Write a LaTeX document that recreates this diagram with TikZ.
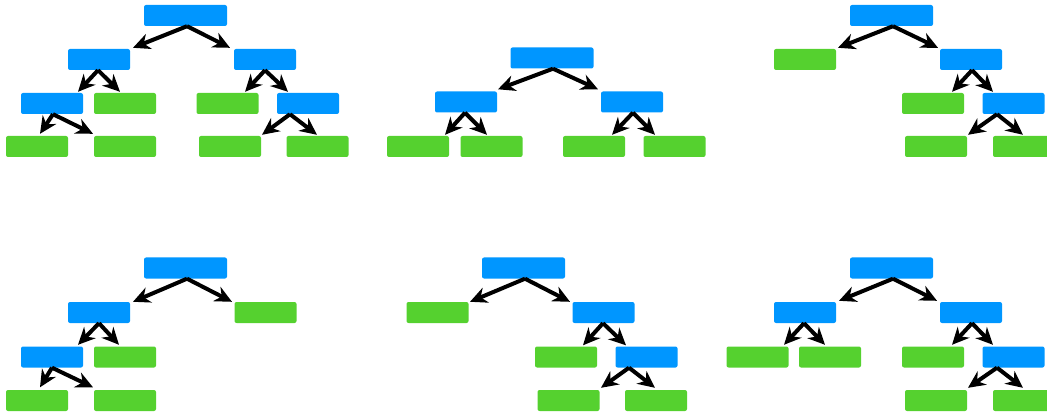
\documentclass[tikz,border=0pt]{standalone}
\usetikzlibrary{arrows.meta,calc}
\definecolor{nodeblue}{RGB}{0,150,255}
\definecolor{leafgreen}{RGB}{85,209,47}
\tikzset{
  boxbase/.style={rectangle, rounded corners=2pt, inner sep=0pt, minimum height=21pt, draw=none},
  inner/.style={boxbase, fill=nodeblue, minimum width=62pt},
  rootbox/.style={boxbase, fill=nodeblue, minimum width=83pt},
  leaf/.style={boxbase, fill=leafgreen, minimum width=62pt},
  arr/.style={line width=4pt, draw=black, -{Stealth[length=17pt,width=16pt,inset=5.5pt]}}
}
\newcommand{\treearrow}[5]{\draw[arr] ($(#1.south)+(#2,0)$) -- ($(#3.north)+(#4,#5)$);}
\begin{document}
\begin{tikzpicture}[x=1pt,y=-1pt]
\useasboundingbox (0,0) rectangle (1047,414);
% ---------- Tree 1 (top left)
\node[rootbox] (t1r) at (185.5,15.5) {};
\node[inner] (t1a) at (99,59.5) {};
\node[inner] (t1b) at (265,59.5) {};
\node[inner] (t1c) at (52,103.5) {};
\node[leaf]  (t1d) at (125,103.5) {};
\node[leaf]  (t1e) at (227.5,103.5) {};
\node[inner] (t1f) at (308,103.5) {};
\node[leaf]  (t1g) at (37,146.5) {};
\node[leaf]  (t1h) at (125,146.5) {};
\node[leaf]  (t1i) at (230,146.5) {};
\node[leaf]  (t1j) at (317.5,146.5) {};
\treearrow{t1r}{1.5}{t1a}{34}{-1}
\treearrow{t1r}{1.5}{t1b}{-35}{-1}
\treearrow{t1a}{-1}{t1c}{26}{-1}
\treearrow{t1a}{-1}{t1d}{-5}{-1}
\treearrow{t1c}{1}{t1g}{3}{-2}
\treearrow{t1c}{1}{t1h}{-32}{-2}
\treearrow{t1b}{0}{t1e}{17.5}{-1}
\treearrow{t1b}{0}{t1f}{-20}{-1}
\treearrow{t1f}{-18}{t1i}{32}{-1}
\treearrow{t1f}{-18}{t1j}{-0.5}{-1}
% ---------- Tree 2 (top middle)
\node[rootbox] (t2r) at (552,58) {};
\node[inner] (t2a) at (466,102) {};
\node[inner] (t2b) at (632,102) {};
\node[leaf]  (t2c) at (418,146.5) {};
\node[leaf]  (t2d) at (491.5,146.5) {};
\node[leaf]  (t2e) at (594,146.5) {};
\node[leaf]  (t2f) at (674.5,146.5) {};
\treearrow{t2r}{1}{t2a}{32}{-2}
\treearrow{t2r}{1}{t2b}{-34}{-2}
\treearrow{t2a}{-1}{t2c}{27}{-1}
\treearrow{t2a}{-1}{t2d}{-4.5}{-1}
\treearrow{t2b}{1}{t2e}{18}{-1}
\treearrow{t2b}{1}{t2f}{-19.5}{-1}
% ---------- Tree 3 (top right)
\node[rootbox] (t3r) at (891.5,15.5) {};
\node[leaf]  (t3a) at (805,59.5) {};
\node[inner] (t3b) at (971,59.5) {};
\node[leaf]  (t3c) at (933,103.5) {};
\node[inner] (t3d) at (1013.5,103.5) {};
\node[leaf]  (t3e) at (936,146.5) {};
\node[leaf]  (t3f) at (1024,146.5) {};
\treearrow{t3r}{1.5}{t3a}{33}{-1}
\treearrow{t3r}{1.5}{t3b}{-33}{-1}
\treearrow{t3b}{1}{t3c}{19}{-1}
\treearrow{t3b}{1}{t3d}{-20.5}{-1}
\treearrow{t3d}{-16.5}{t3e}{32}{-1}
\treearrow{t3d}{-16.5}{t3f}{-1}{-1}
% ---------- Tree 4 (bottom left)
\node[rootbox] (t4r) at (185.5,268) {};
\node[inner] (t4a) at (99,312.5) {};
\node[leaf]  (t4b) at (265.5,312.5) {};
\node[inner] (t4c) at (52,357) {};
\node[leaf]  (t4d) at (125,357) {};
\node[leaf]  (t4g) at (37,400.5) {};
\node[leaf]  (t4h) at (125,400.5) {};
\treearrow{t4r}{1.5}{t4a}{34}{0}
\treearrow{t4r}{1.5}{t4b}{-33.5}{0}
\treearrow{t4a}{0}{t4c}{26}{-1.5}
\treearrow{t4a}{0}{t4d}{-6}{-1.5}
\treearrow{t4c}{0}{t4g}{3}{-2.5}
\treearrow{t4c}{0}{t4h}{-32}{-2.5}
% ---------- Tree 5 (bottom middle)
\node[rootbox] (t5r) at (523.5,268) {};
\node[leaf]  (t5a) at (437.5,312.5) {};
\node[inner] (t5b) at (603.5,312.5) {};
\node[leaf]  (t5c) at (566,357) {};
\node[inner] (t5d) at (646.5,357) {};
\node[leaf]  (t5e) at (568.5,400.5) {};
\node[leaf]  (t5f) at (656,400.5) {};
\treearrow{t5r}{1.5}{t5a}{32.5}{0}
\treearrow{t5r}{1.5}{t5b}{-33.5}{0}
\treearrow{t5b}{-0.5}{t5c}{17}{-1}
\treearrow{t5b}{-0.5}{t5d}{-20.5}{-1}
\treearrow{t5d}{-17.5}{t5e}{32.5}{-2}
\treearrow{t5d}{-17.5}{t5f}{-1}{-2}
% ---------- Tree 6 (bottom right)
\node[rootbox] (t6r) at (891.5,268) {};
\node[inner] (t6a) at (805,312.5) {};
\node[inner] (t6b) at (971,312.5) {};
\node[leaf]  (t6g) at (757.5,357) {};
\node[leaf]  (t6h) at (830,357) {};
\node[leaf]  (t6c) at (933,357) {};
\node[inner] (t6d) at (1013.5,357) {};
\node[leaf]  (t6e) at (936,400.5) {};
\node[leaf]  (t6f) at (1024,400.5) {};
\treearrow{t6r}{1.5}{t6a}{34}{-1}
\treearrow{t6r}{1.5}{t6b}{-34}{-1}
\treearrow{t6a}{-1}{t6g}{26.5}{-1.5}
\treearrow{t6a}{-1}{t6h}{-5}{-1.5}
\treearrow{t6b}{1}{t6c}{19}{-1.5}
\treearrow{t6b}{1}{t6d}{-20.5}{-1.5}
\treearrow{t6d}{-16.5}{t6e}{32}{-2}
\treearrow{t6d}{-16.5}{t6f}{-1}{-2}
\end{tikzpicture}
\end{document}
